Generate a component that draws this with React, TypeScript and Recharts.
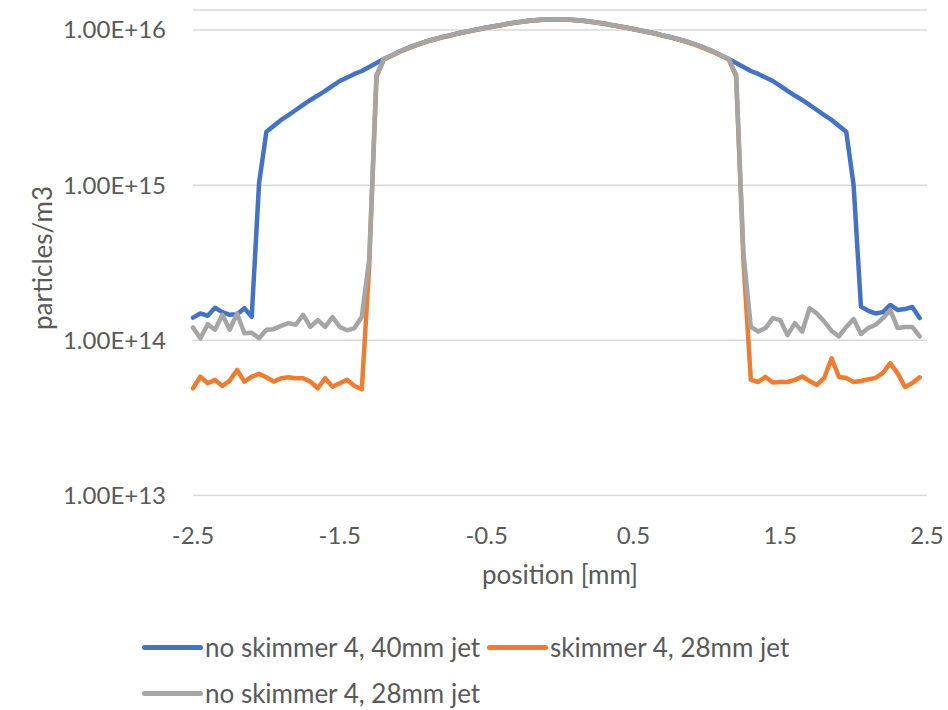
import { LineChart, Line, XAxis, YAxis, CartesianGrid, Legend, Label } from "recharts";

// position along the scan, mm
const positions = [
  -2.5, -2.45, -2.4, -2.35, -2.3, -2.25, -2.2, -2.15, -2.1, -2.05,
  -2.0, -1.95, -1.9, -1.85, -1.8, -1.75, -1.7, -1.65, -1.6, -1.55,
  -1.5, -1.45, -1.4, -1.35, -1.3, -1.25, -1.2, -1.15, -1.1, -1.05,
  -1.0, -0.95, -0.9, -0.85, -0.8, -0.75, -0.7, -0.65, -0.6, -0.55,
  -0.5, -0.45, -0.4, -0.35, -0.3, -0.25, -0.2, -0.15, -0.1, -0.05,
  0.0, 0.05, 0.1, 0.15, 0.2, 0.25, 0.3, 0.35, 0.4, 0.45,
  0.5, 0.55, 0.6, 0.65, 0.7, 0.75, 0.8, 0.85, 0.9, 0.95,
  1.0, 1.05, 1.1, 1.15, 1.2, 1.25, 1.3, 1.35, 1.4, 1.45,
  1.5, 1.55, 1.6, 1.65, 1.7, 1.75, 1.8, 1.85, 1.9, 1.95,
  2.0, 2.05, 2.1, 2.15, 2.2, 2.25, 2.3, 2.35, 2.4, 2.45,
];

const noSkimmer40 = [
  1.40e14, 1.49e14, 1.44e14, 1.62e14, 1.52e14, 1.46e14, 1.47e14, 1.61e14, 1.42e14, 1.03e15,
  2.21e15, 2.41e15, 2.63e15, 2.83e15, 3.05e15, 3.29e15, 3.54e15, 3.78e15, 4.05e15, 4.36e15,
  4.69e15, 4.94e15, 5.21e15, 5.44e15, 5.78e15, 6.13e15, 6.50e15, 6.85e15, 7.22e15, 7.55e15,
  7.89e15, 8.19e15, 8.49e15, 8.75e15, 9.01e15, 9.22e15, 9.49e15, 9.71e15, 9.93e15, 1.015e16,
  1.038e16, 1.056e16, 1.077e16, 1.10e16, 1.118e16, 1.134e16, 1.151e16, 1.16e16, 1.169e16, 1.172e16,
  1.172e16, 1.169e16, 1.16e16, 1.151e16, 1.134e16, 1.118e16, 1.10e16, 1.077e16, 1.056e16, 1.038e16,
  1.015e16, 9.93e15, 9.71e15, 9.49e15, 9.22e15, 9.01e15, 8.75e15, 8.49e15, 8.19e15, 7.89e15,
  7.55e15, 7.22e15, 6.85e15, 6.50e15, 6.13e15, 5.78e15, 5.44e15, 5.21e15, 4.94e15, 4.69e15,
  4.36e15, 4.05e15, 3.78e15, 3.54e15, 3.29e15, 3.05e15, 2.83e15, 2.63e15, 2.41e15, 2.21e15,
  1.0e15, 1.65e14, 1.55e14, 1.49e14, 1.52e14, 1.69e14, 1.57e14, 1.59e14, 1.64e14, 1.39e14,
];

const skimmer28 = [
  4.91e13, 5.83e13, 5.29e13, 5.56e13, 5.08e13, 5.50e13, 6.44e13, 5.42e13, 5.83e13, 6.08e13,
  5.78e13, 5.42e13, 5.70e13, 5.78e13, 5.70e13, 5.70e13, 5.42e13, 4.91e13, 5.70e13, 5.03e13,
  5.29e13, 5.56e13, 5.08e13, 4.84e13, 3.0e14, 5.0e15, 6.45e15, 6.80e15, 7.17e15, 7.50e15,
  7.84e15, 8.14e15, 8.44e15, 8.70e15, 8.97e15, 9.18e15, 9.45e15, 9.67e15, 9.89e15, 1.011e16,
  1.034e16, 1.053e16, 1.074e16, 1.097e16, 1.115e16, 1.131e16, 1.148e16, 1.157e16, 1.166e16, 1.169e16,
  1.169e16, 1.166e16, 1.157e16, 1.148e16, 1.131e16, 1.115e16, 1.097e16, 1.074e16, 1.053e16, 1.034e16,
  1.011e16, 9.89e15, 9.67e15, 9.45e15, 9.18e15, 8.97e15, 8.70e15, 8.44e15, 8.14e15, 7.84e15,
  7.50e15, 7.17e15, 6.80e15, 6.45e15, 5.0e15, 3.2e14, 5.56e13, 5.39e13, 5.81e13, 5.35e13,
  5.39e13, 5.39e13, 5.56e13, 5.85e13, 5.47e13, 5.16e13, 5.72e13, 7.67e13, 5.81e13, 5.72e13,
  5.39e13, 5.47e13, 5.60e13, 5.72e13, 6.16e13, 7.12e13, 6.12e13, 5.01e13, 5.31e13, 5.77e13,
];

const noSkimmer28 = [
  1.21e14, 1.03e14, 1.27e14, 1.17e14, 1.46e14, 1.17e14, 1.49e14, 1.11e14, 1.12e14, 1.03e14,
  1.17e14, 1.18e14, 1.24e14, 1.29e14, 1.26e14, 1.46e14, 1.22e14, 1.35e14, 1.22e14, 1.41e14,
  1.22e14, 1.16e14, 1.20e14, 1.42e14, 3.3e14, 5.13e15, 6.50e15, 6.85e15, 7.22e15, 7.55e15,
  7.89e15, 8.19e15, 8.49e15, 8.75e15, 9.01e15, 9.22e15, 9.49e15, 9.71e15, 9.93e15, 1.015e16,
  1.038e16, 1.056e16, 1.077e16, 1.10e16, 1.118e16, 1.134e16, 1.151e16, 1.16e16, 1.169e16, 1.172e16,
  1.172e16, 1.169e16, 1.16e16, 1.151e16, 1.134e16, 1.118e16, 1.10e16, 1.077e16, 1.056e16, 1.038e16,
  1.015e16, 9.93e15, 9.71e15, 9.49e15, 9.22e15, 9.01e15, 8.75e15, 8.49e15, 8.19e15, 7.89e15,
  7.55e15, 7.22e15, 6.85e15, 6.50e15, 5.13e15, 3.6e14, 1.22e14, 1.14e14, 1.20e14, 1.39e14,
  1.35e14, 1.08e14, 1.29e14, 1.14e14, 1.61e14, 1.49e14, 1.32e14, 1.15e14, 1.06e14, 1.22e14,
  1.37e14, 1.10e14, 1.20e14, 1.26e14, 1.39e14, 1.57e14, 1.20e14, 1.22e14, 1.22e14, 1.06e14,
];

const xTicks = [-2.5, -1.5, -0.5, 0.5, 1.5, 2.5];
const yTicks = [1e13, 1e14, 1e15, 1e16];

const series = [
  { key: "a", name: "no skimmer 4, 40mm jet", color: "#4472C4" },
  { key: "b", name: "skimmer 4, 28mm jet", color: "#ED7D31" },
  { key: "c", name: "no skimmer 4, 28mm jet", color: "#A5A5A5" },
];

const data = positions.map((x, i) => ({
  x,
  a: noSkimmer40[i],
  b: skimmer28[i],
  c: noSkimmer28[i],
}));

const TEXT = "#595959";
const FONT = "Lato, 'Open Sans', sans-serif";

const legendSpots = [
  { left: 142, top: 0 },
  { left: 487, top: 0 },
  { left: 142, top: 46 },
];

function ChartLegend() {
  return (
    <div style={{ position: "relative", width: 948, height: 76 }}>
      {series.map((s, i) => (
        <div
          key={s.key}
          style={{
            position: "absolute",
            left: legendSpots[i].left,
            top: legendSpots[i].top,
            height: 30,
            display: "flex",
            alignItems: "center",
            whiteSpace: "nowrap",
          }}
        >
          <span
            style={{
              display: "inline-block",
              width: 61,
              height: 5,
              borderRadius: 3,
              background: s.color,
              marginRight: 2,
            }}
          />
          <span style={{ fontSize: 26, lineHeight: "30px", color: TEXT, fontFamily: FONT }}>{s.name}</span>
        </div>
      ))}
    </div>
  );
}

function YTitle() {
  return (
    <text
      x={42}
      y={258}
      transform="rotate(-90, 42, 258)"
      textAnchor="middle"
      dominantBaseline="central"
      fill={TEXT}
      fontSize={26}
      fontFamily={FONT}
    >
      particles/m3
    </text>
  );
}

export default function App() {
  return (
    <div style={{ position: "absolute", left: 0, top: 0, width: 948, height: 710, background: "#fff", fontFamily: FONT }}>
      <LineChart width={948} height={710} data={data} margin={{ top: 10, right: 21, bottom: 114.5, left: 0 }}>
        <CartesianGrid vertical={false} stroke="#D9D9D9" strokeWidth={1.5} />
        <XAxis
          dataKey="x"
          type="number"
          domain={[-2.5, 2.5]}
          ticks={xTicks}
          axisLine={false}
          tickLine={false}
          tickSize={0}
          tickMargin={31}
          height={100}
          tick={{ fill: TEXT, fontSize: 24 }}
        >
          <Label value="position [mm]" position="insideBottom" offset={12} fill={TEXT} fontSize={26} />
        </XAxis>
        <YAxis
          scale="log"
          type="number"
          domain={[1e13, 1.345e16]}
          ticks={yTicks}
          width={193}
          axisLine={false}
          tickLine={false}
          tickSize={0}
          tickMargin={27}
          tick={{ fill: TEXT, fontSize: 24 }}
          tickFormatter={(v: number) => v.toExponential(2).toUpperCase()}
          label={{ content: () => <YTitle /> }}
        />
        <Legend
          layout="horizontal"
          verticalAlign="middle"
          align="center"
          wrapperStyle={{ top: 632, left: 0, width: 948 }}
          content={() => <ChartLegend />}
        />
        {series.map((s) => (
          <Line
            key={s.key}
            type="linear"
            dataKey={s.key}
            name={s.name}
            stroke={s.color}
            strokeWidth={4.5}
            strokeLinejoin="round"
            strokeLinecap="round"
            dot={false}
            activeDot={false}
            isAnimationActive={false}
          />
        ))}
      </LineChart>
    </div>
  );
}
